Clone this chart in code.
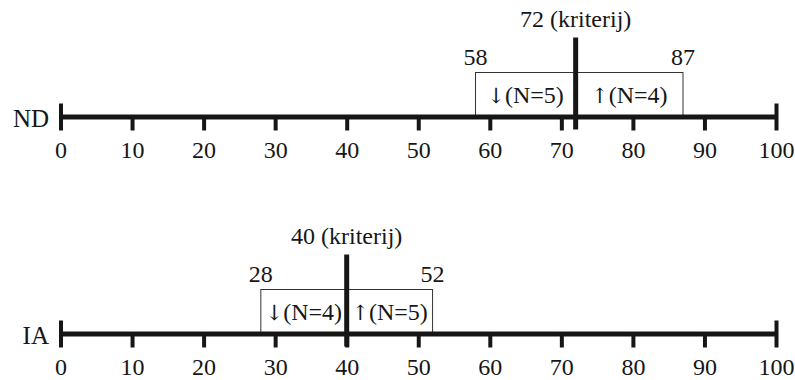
<!DOCTYPE html>
<html>
<head>
<meta charset="utf-8">
<script src="https://cdn.jsdelivr.net/npm/d3@7"></script>
<style>
  body { margin: 0; background: #fff; }
  svg { display: block; }
</style>
</head>
<body>
<svg></svg>
<script>
const panels = ["ND", "IA"];
const criteria = [72, 40];
const lowerBounds = [58, 28];
const upperBounds = [87, 52];
const nBelow = [5, 4];
const nAbove = [4, 5];
const tickValues = [0, 10, 20, 30, 40, 50, 60, 70, 80, 90, 100];

const svgWidth = 795;
const svgHeight = 380;
const ink = "#161616";
const font = "'Liberation Serif', 'Times New Roman', serif";
const arrowFont = "'DejaVu Serif', 'DejaVu Sans', serif";
const fontSize = 24;

const svg = d3
  .select("svg")
  .attr("width", svgWidth)
  .attr("height", svgHeight);

const xScale = d3
  .scaleLinear()
  .domain([0, 100])
  .range([60.5, 776]);

// y of each axis line
const yScale = d3
  .scalePoint()
  .domain(panels)
  .range([116.5, 333.5]);

panels.forEach((name, i) => {
  const g = svg
    .append("g")
    .attr("transform", "translate(0," + yScale(name) + ")");

  const crit = criteria[i];
  const lo = lowerBounds[i];
  const hi = upperBounds[i];

  // box around the range
  g.append("rect")
    .attr("x", xScale(lo))
    .attr("y", -44)
    .attr("width", xScale(hi) - xScale(lo))
    .attr("height", 44)
    .attr("fill", "none")
    .attr("stroke", "#333")
    .attr("stroke-width", 1);

  // axis
  const x_axis = d3
    .axisBottom(xScale)
    .tickValues(tickValues)
    .tickSize(14)
    .tickSizeOuter(0)
    .tickPadding(10);

  const ax = g.append("g").call(x_axis);
  ax.select(".domain")
    .attr("stroke", ink)
    .attr("stroke-width", 5);
  ax.selectAll(".tick line")
    .attr("stroke", ink)
    .attr("stroke-width", 4)
    .attr("y1", d => (d === 0 || d === 100 ? -13 : 0));
  ax.selectAll(".tick text")
    .attr("fill", ink)
    .attr("font-family", font)
    .attr("font-size", fontSize);

  // criterion line
  g.append("line")
    .attr("x1", xScale(crit))
    .attr("x2", xScale(crit))
    .attr("y1", -79)
    .attr("y2", 13)
    .attr("stroke", ink)
    .attr("stroke-width", 5);

  const text = (x, y, s, anchor) =>
    g.append("text")
      .attr("x", x)
      .attr("y", y)
      .attr("text-anchor", anchor || "middle")
      .attr("font-family", font)
      .attr("font-size", fontSize)
      .attr("fill", ink)
      .text(s);

  const arrowText = (x, arrow, n) => {
    const t = text(x, -13.5, "");
    t.append("tspan")
      .attr("font-family", arrowFont)
      .attr("font-size", 21)
      .attr("fill", ink)
      .text(arrow);
    t.append("tspan").text("(N=" + n + ")");
  };

  text(xScale(crit), -89.5, crit + " (kriterij)");
  text(xScale(lo), -51.5, lo);
  text(xScale(hi), -51.5, hi);
  arrowText(xScale((lo + crit) / 2), "\u2193", nBelow[i]);
  arrowText(xScale((crit + hi) / 2), "\u2191", nAbove[i]);

  // row label
  text(49, 10.5, name, "end").attr("font-size", 25);
});
</script>
</body>
</html>
